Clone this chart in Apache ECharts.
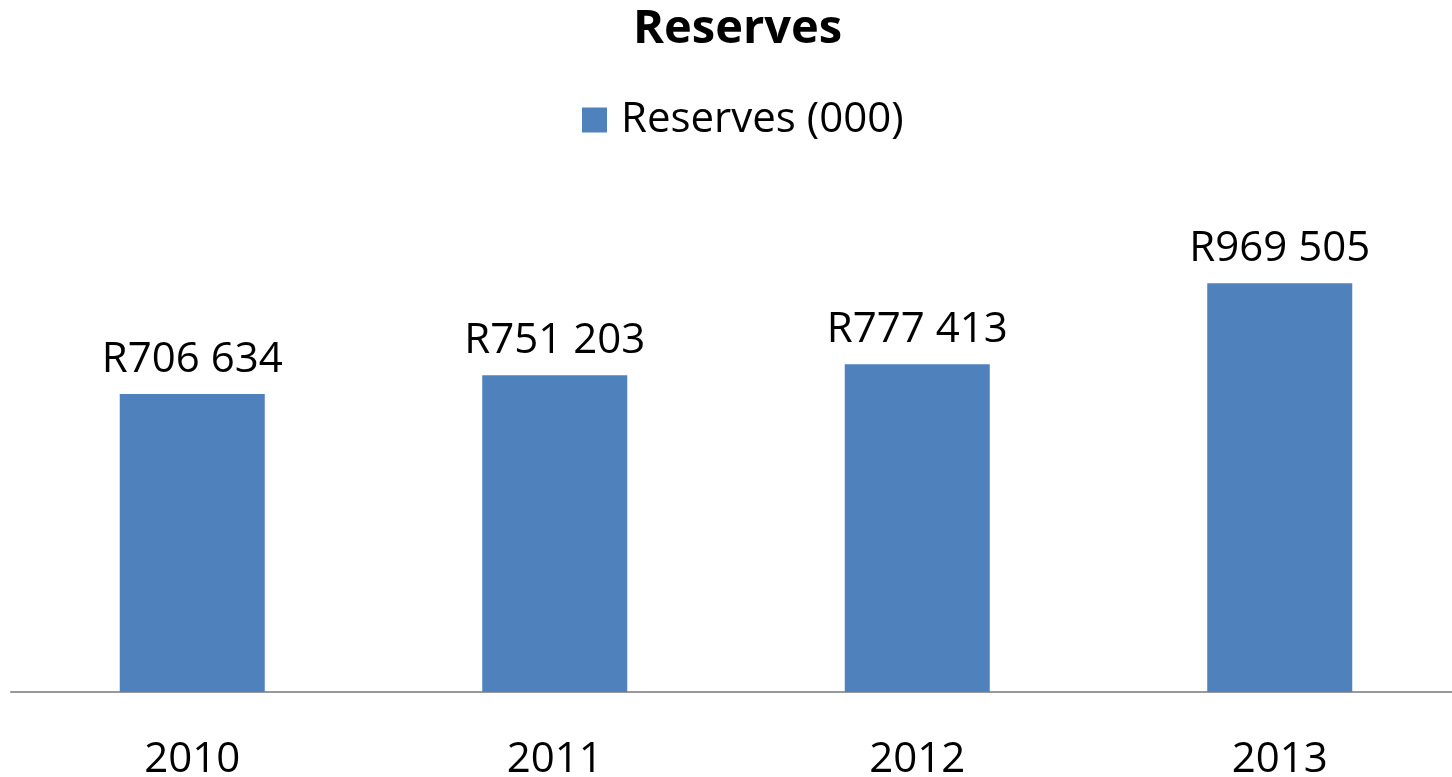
<!DOCTYPE html>
<html>
<head>
<meta charset="utf-8">
<script src="https://cdn.jsdelivr.net/npm/echarts@6/dist/echarts.min.js"></script>
<style>
  html, body { margin: 0; padding: 0; background: #fff; }
  #box1 { width: 1452px; height: 777px; }
</style>
</head>
<body>
<div id="box1"></div>
<script>
// 数据
var years = ['2010', '2011', '2012', '2013'];
var reserves = [706634, 751203, 777413, 969505];
var seriesName = 'Reserves (000)';

var chart = echarts.init(document.getElementById('box1'));

function fmt(v) {
  var s = String(v);
  return 'R' + s.slice(0, s.length - 3) + ' ' + s.slice(-3);
}

var option = {
  animation: false,
  textStyle: { fontFamily: 'Open Sans' },
  title: {
    text: 'Reserves',
    left: 628,
    top: 1,
    textStyle: { fontSize: 47, fontWeight: 'bold', color: '#000', fontFamily: 'Open Sans' }
  },
  legend: {
    data: [seriesName],
    top: 94,
    left: 577,
    icon: 'rect',
    itemWidth: 25,
    itemHeight: 25,
    itemGap: 10,
    textStyle: { fontSize: 42, color: '#000', padding: [0, 0, 0, 9] }
  },
  grid: {
    left: 11,
    width: 1450,
    top: 186,
    bottom: 85,
    containLabel: false,
    outerBoundsMode: 'none'
  },
  xAxis: {
    type: 'category',
    data: years,
    axisLine: { lineStyle: { color: '#999', width: 2 } },
    axisTick: { show: false },
    axisLabel: { fontSize: 42, color: '#000', margin: 47 }
  },
  yAxis: {
    type: 'value',
    min: 0,
    max: 1200000,
    show: false,
    splitLine: { show: false }
  },
  series: [{
    name: seriesName,
    type: 'bar',
    data: reserves,
    barWidth: '40%',
    itemStyle: { color: '#4F81BD' },
    label: {
      show: true,
      position: 'top',
      distance: 13,
      fontSize: 42,
      color: '#000',
      formatter: function (p) { return fmt(p.value); }
    }
  }]
};

chart.setOption(option);
</script>
</body>
</html>
